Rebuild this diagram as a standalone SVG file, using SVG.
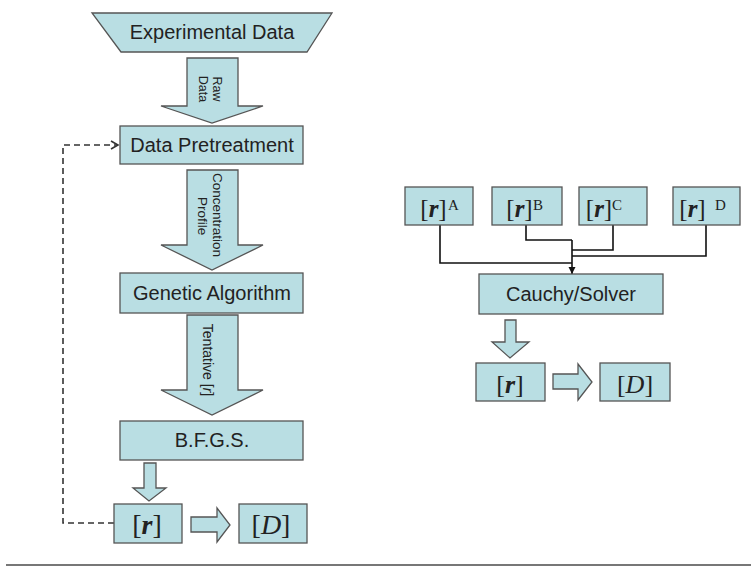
<svg xmlns="http://www.w3.org/2000/svg" width="751" height="569" viewBox="0 0 751 569">
<defs>
<style>
.box{fill:#b9dee3;stroke:#555;stroke-width:1.3}
.lbl{font-family:"Liberation Sans",Arial,sans-serif;font-size:20px;fill:#222;text-anchor:middle}
.al{font-family:"Liberation Sans",Arial,sans-serif;font-size:12.5px;fill:#222;text-anchor:middle}
.mt{font-family:"Liberation Serif","Times New Roman",serif;fill:#222;text-anchor:middle}
.sup{font-family:"Liberation Serif","Times New Roman",serif;font-size:15px;fill:#222}
.con{fill:none;stroke:#111;stroke-width:1.6}
.dash{fill:none;stroke:#333;stroke-width:1.6;stroke-dasharray:6,4}
</style>
<marker id="ah" markerWidth="8" markerHeight="8" refX="7" refY="4" orient="auto" markerUnits="userSpaceOnUse">
<path d="M0,0.5 L7,4 L0,7.5 Z" fill="#111"/>
</marker>
<marker id="oh" markerWidth="10" markerHeight="10" refX="8" refY="5" orient="auto" markerUnits="userSpaceOnUse">
<path d="M1,1 L8,5 L1,9" fill="none" stroke="#333" stroke-width="1.6"/>
</marker>
</defs>
<rect width="751" height="569" fill="#fff"/>

<g id="connectors">
<path class="dash" d="M114,523 H63 V145 H118" marker-end="url(#oh)"/>
<path class="con" d="M440,225 V263 H572"/>
<path class="con" d="M526,225 V240 H572"/>
<path class="con" d="M613,225 V250 H572"/>
<path class="con" d="M706,225 V256 H572"/>
<path class="con" d="M572,240 V274" marker-end="url(#ah)"/>
</g>

<g id="arrow-raw">
<polygon class="box" points="187,58 238,58 238,106 263,106 212,123 161,106 187,106"/>
<text class="al" transform="translate(213,89) rotate(90)">Raw</text>
<text class="al" transform="translate(199,89) rotate(90)">Data</text>
</g>
<g id="arrow-conc">
<polygon class="box" points="187,170 238,170 238,245 263,245 212,270 161,245 187,245"/>
<text class="al" transform="translate(213,215) rotate(90)" style="font-size:13.5px">Concentration</text>
<text class="al" transform="translate(198,216) rotate(90)" style="font-size:13.5px">Profile</text>
</g>
<g id="arrow-tent">
<polygon class="box" points="187,315 238,315 238,390 263,390 212,415 161,390 187,390"/>
<text class="al" transform="translate(203,360) rotate(90)" style="font-size:14px">Tentative [<tspan font-style="italic">r</tspan>]</text>
</g>
<g id="arrow-small-left">
<polygon class="box" points="144,463 156,463 156,488 166,488 149,501 133,488 144,488"/>
</g>
<g id="arrow-right-left">
<polygon class="box" points="191,517 217,517 217,508 230,525 217,542 217,532 191,532"/>
</g>
<g id="arrow-small-right">
<polygon class="box" points="505,320 516,320 516,342 529,342 510,358 492,342 505,342"/>
</g>
<g id="arrow-right-right">
<polygon class="box" points="553,374 578,374 578,364 592,382 578,400 578,389 553,389"/>
</g>

<g id="experimental-data">
<polygon class="box" points="92,13 332,13 307,52 121,52"/>
<text class="lbl" x="212" y="39">Experimental Data</text>
</g>
<g id="data-pretreatment">
<rect class="box" x="120" y="126" width="183" height="38"/>
<text class="lbl" x="212" y="152">Data Pretreatment</text>
</g>
<g id="genetic-algorithm">
<rect class="box" x="120" y="273" width="183" height="40"/>
<text class="lbl" x="212" y="300">Genetic Algorithm</text>
</g>
<g id="bfgs">
<rect class="box" x="120" y="421" width="183" height="39"/>
<text class="lbl" x="212" y="447">B.F.G.S.</text>
</g>
<g id="r-left">
<rect class="box" x="114" y="504" width="68" height="39"/>
<text class="mt" x="147" y="534" font-size="28">[<tspan font-style="italic" font-weight="bold">r</tspan>]</text>
</g>
<g id="d-left">
<rect class="box" x="239" y="504" width="68" height="39"/>
<text class="mt" x="271" y="534" font-size="28">[<tspan font-style="italic">D</tspan>]</text>
</g>

<g id="rA">
<rect class="box" x="405" y="187" width="68" height="38"/>
<text class="mt" x="433.5" y="217" font-size="25">[<tspan font-style="italic" font-weight="bold">r</tspan>]</text>
<text class="sup" x="448" y="210">A</text>
</g>
<g id="rB">
<rect class="box" x="492" y="187" width="70" height="38"/>
<text class="mt" x="519.5" y="217" font-size="25">[<tspan font-style="italic" font-weight="bold">r</tspan>]</text>
<text class="sup" x="533" y="210">B</text>
</g>
<g id="rC">
<rect class="box" x="579" y="187" width="68" height="38"/>
<text class="mt" x="599" y="217" font-size="25">[<tspan font-style="italic" font-weight="bold">r</tspan>]</text>
<text class="sup" x="612" y="210">C</text>
</g>
<g id="rD">
<rect class="box" x="673" y="187" width="67" height="38"/>
<text class="mt" x="692.5" y="217" font-size="25">[<tspan font-style="italic" font-weight="bold">r</tspan>]</text>
<text class="sup" x="715" y="210">D</text>
</g>
<g id="cauchy-solver">
<rect class="box" x="479" y="274" width="184" height="40"/>
<text class="lbl" x="571" y="301">Cauchy/Solver</text>
</g>
<g id="r-right">
<rect class="box" x="476" y="363" width="69" height="38"/>
<text class="mt" x="510" y="393" font-size="26">[<tspan font-style="italic" font-weight="bold">r</tspan>]</text>
</g>
<g id="d-right">
<rect class="box" x="600" y="363" width="70" height="38"/>
<text class="mt" x="635" y="393" font-size="26">[<tspan font-style="italic">D</tspan>]</text>
</g>

<line x1="6" y1="565" x2="751" y2="565" stroke="#777" stroke-width="2"/>
</svg>
